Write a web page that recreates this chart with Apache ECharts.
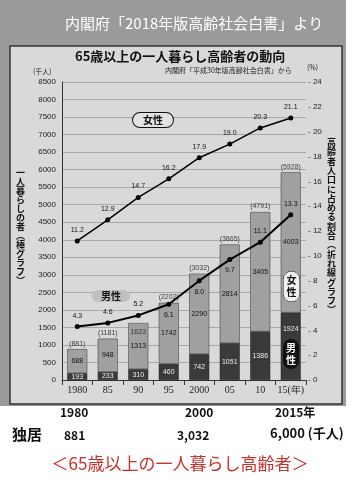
<!DOCTYPE html>
<html><head><meta charset="utf-8">
<script src="https://cdn.jsdelivr.net/npm/echarts@6/dist/echarts.min.js"></script>
<style>html,body{margin:0;padding:0;background:#fff}#c{width:360px;height:480px}</style>
</head><body><div id="c"></div>
<script>
const years = ['1980','85','90','95','2000','05','10','15(年)'];
const maleCount = [193, 233, 310, 460, 742, 1051, 1386, 1924];
const femaleCount = [688, 948, 1313, 1742, 2290, 2814, 3405, 4003];
const totalCount = [881, 1181, 1623, 2202, 3032, 3865, 4791, 5928];
const malePct = [4.3, 4.6, 5.2, 6.1, 8.0, 9.7, 11.1, 13.3];
const femalePct = [11.2, 12.9, 14.7, 16.2, 17.9, 19.0, 20.3, 21.1];
const leftTicks = {min: 0, max: 8500, step: 500};
const rightTicks = {min: 0, max: 24, step: 2};
const summaryYears = ['1980', '2000', '2015年'];
const summaryValues = ['881', '3,032', '6,000 (千人)'];

const JP = '"Noto Sans CJK JP", "Noto Sans", sans-serif';
const NUM = '"Liberation Sans", sans-serif';
const chart = echarts.init(document.getElementById('c'), null, {renderer: 'canvas'});

function vert(s){ return s.split('').join('\n'); }

const maleLabelBelow = [3, 4, 5];

const option = {
  animation: false,
  textStyle: {fontFamily: JP},
  grid: {left: 62, right: 54, top: 82, bottom: 100},
  xAxis: {
    type: 'category', data: years,
    axisLine: {lineStyle: {color: '#333'}},
    axisTick: {show: true, lineStyle: {color: '#333'}},
    axisLabel: {interval: 0, fontFamily: '"Liberation Serif", serif', fontSize: 10, color: '#222', margin: 5}
  },
  yAxis: [{
    type: 'value', min: leftTicks.min, max: leftTicks.max, interval: leftTicks.step,
    axisLine: {show: true, lineStyle: {color: '#333'}},
    axisTick: {show: false},
    axisLabel: {fontSize: 8, color: '#222', margin: 6, fontFamily: NUM, formatter: v => String(v)},
    splitLine: {lineStyle: {color: '#a8a8a8', width: 1}}
  },{
    type: 'value', min: rightTicks.min, max: rightTicks.max, interval: rightTicks.step,
    axisLine: {show: false}, axisTick: {show: false},
    axisLabel: {fontSize: 8, color: '#222', margin: 2, formatter: v => '- ' + v, fontFamily: NUM},
    splitLine: {show: false}
  }],
  series: [{
    name: '男性', type: 'bar', stack: 'n', barWidth: 20,
    data: maleCount.map((v, i) => i === 7 ? {value: v, label: {position: 'insideTop', offset: [0, 8]}} : v),
    itemStyle: {color: '#3a3a3a', borderColor: '#222', borderWidth: 0.5},
    label: {show: true, position: 'inside', fontSize: 7, color: '#eee', fontFamily: NUM},
    z: 2
  },{
    name: '女性', type: 'bar', stack: 'n', data: femaleCount, barWidth: 20,
    itemStyle: {color: '#a0a0a0', borderColor: '#333', borderWidth: 0.5},
    label: {show: true, position: 'inside', fontSize: 7, color: '#111', fontFamily: NUM},
    z: 2
  },{
    name: '計', type: 'scatter',
    data: totalCount.map((v, i) => i === 2
        ? {value: v, label: {position: 'insideTop', offset: [0, 4], formatter: String(v)}}
        : v),
    symbolSize: 0.1, itemStyle: {color: 'transparent'},
    label: {show: true, position: 'top', distance: 2, fontSize: 7, color: '#111', formatter: p => '(' + p.value + ')', fontFamily: NUM},
    z: 3
  },{
    name: '男性割合', type: 'line', yAxisIndex: 1,
    data: malePct.map((v, i) => maleLabelBelow.includes(i) ? {value: v, label: {position: 'bottom'}} : v),
    symbol: 'circle', symbolSize: 5, lineStyle: {color: '#000', width: 2}, itemStyle: {color: '#000'},
    label: {show: true, position: 'top', distance: 5, fontSize: 7, color: '#111', formatter: p => Number(p.value).toFixed(1), fontFamily: NUM},
    z: 5
  },{
    name: '女性割合', type: 'line', yAxisIndex: 1, data: femalePct,
    symbol: 'circle', symbolSize: 5, lineStyle: {color: '#000', width: 1.5}, itemStyle: {color: '#000'},
    label: {show: true, position: 'top', distance: 5, fontSize: 7, color: '#111', formatter: p => Number(p.value).toFixed(1), fontFamily: NUM},
    z: 5
  }],
  graphic: [
    {type: 'rect', z: -10, shape: {x: 0, y: 0, width: 346, height: 406}, style: {fill: '#9a9a9a'}},
    {type: 'rect', z: -9, shape: {x: 10, y: 46, width: 332, height: 358}, style: {fill: '#d9d9d9', stroke: '#333', lineWidth: 1.5}},
    {type: 'text', z: 10, left: 65, top: 16, style: {text: '内閣府「2018年版高齢社会白書」より', font: '15px ' + JP, fill: '#fff', shadowColor: 'rgba(0,0,0,0.5)', shadowBlur: 2}},
    {type: 'text', z: 10, left: 75, top: 50, style: {text: '65歳以上の一人暮らし高齢者の動向', font: 'bold 13px ' + JP, fill: '#111'}},
    {type: 'text', z: 10, left: 165, top: 67, style: {text: '内閣府「平成30年版高齢社会白書」から', font: '7px ' + JP, fill: '#222'}},
    {type: 'text', z: 10, left: 33, top: 68, style: {text: '(千人)', font: '7px ' + JP, fill: '#222'}},
    {type: 'text', z: 10, left: 307, top: 64, style: {text: '(%)', font: '7px ' + JP, fill: '#222'}},
    {type: 'text', z: 10, left: 16, top: 168, style: {text: vert('一人暮らしの者︵棒グラフ︶'), font: 'bold 9px ' + JP, lineHeight: 9, fill: '#111', align: 'left'}},
    {type: 'text', z: 10, left: 327, top: 138, style: {text: vert('高齢者人口に占める割合︵折れ線グラフ︶'), font: 'bold 9px ' + JP, lineHeight: 9.3, fill: '#111'}},
    {type: 'text', z: 10, left: 132, top: 112, style: {text: '女性', font: 'bold 10px ' + JP, fill: '#111', borderColor: '#111', borderWidth: 1, borderRadius: 9, padding: [2, 10], backgroundColor: '#e2e2e2'}},
    {type: 'text', z: 10, left: 92, top: 290, style: {text: '男性', font: 'bold 10px ' + JP, fill: '#111', borderRadius: 8, padding: [1, 9], backgroundColor: '#c0c0c0'}},
    {type: 'text', z: 10, left: 283, top: 271, style: {text: '女\n性', font: 'bold 10px ' + JP, lineHeight: 12, fill: '#111', borderColor: '#111', borderWidth: 0.5, borderRadius: 8, padding: [3, 3], backgroundColor: '#f0f0f0'}},
    {type: 'text', z: 10, left: 283, top: 339, style: {text: '男\n性', font: 'bold 10px ' + JP, lineHeight: 12, fill: '#fff', borderRadius: 8, padding: [3, 3], backgroundColor: '#111'}},
    {type: 'text', z: 10, left: 60, top: 406, style: {text: summaryYears[0], font: 'bold 12px ' + JP, fill: '#111'}},
    {type: 'text', z: 10, left: 185, top: 406, style: {text: summaryYears[1], font: 'bold 12px ' + JP, fill: '#111'}},
    {type: 'text', z: 10, left: 275, top: 406, style: {text: summaryYears[2], font: 'bold 12px ' + JP, fill: '#111'}},
    {type: 'text', z: 10, left: 12, top: 427, style: {text: '独居', font: 'bold 15px ' + JP, fill: '#111'}},
    {type: 'text', z: 10, left: 64, top: 429, style: {text: summaryValues[0], font: 'bold 12px ' + JP, fill: '#111'}},
    {type: 'text', z: 10, left: 177, top: 429, style: {text: summaryValues[1], font: 'bold 12px ' + JP, fill: '#111'}},
    {type: 'text', z: 10, left: 270, top: 427, style: {text: summaryValues[2], font: 'bold 13px ' + JP, fill: '#111'}},
    {type: 'text', z: 10, left: 'center', top: 455, style: {text: '＜65歳以上の一人暮らし高齢者＞', font: '17px ' + JP, fill: '#c8302c'}}
  ]
};
chart.setOption(option);
</script></body></html>
